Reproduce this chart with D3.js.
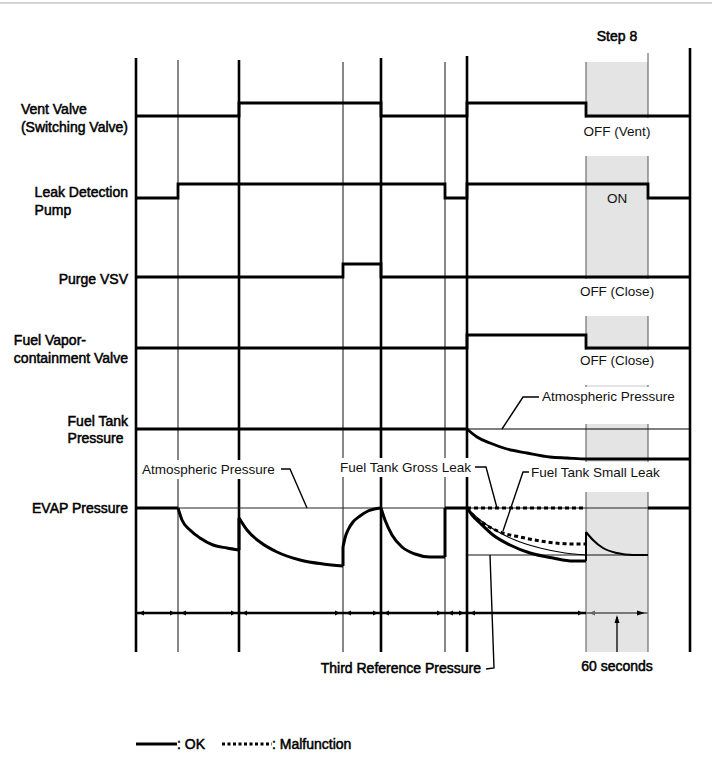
<!DOCTYPE html>
<html>
<head>
<meta charset="utf-8">
<script src="https://cdn.jsdelivr.net/npm/d3@7"></script>
<style>
  body { margin: 0; background: #fff; }
  svg text { font-family: "Liberation Sans", Arial, Helvetica, sans-serif; }
</style>
</head>
<body>
<div id="chart"></div>
<script>
// phase boundaries, seconds from start of the check (about 1 px per second in the picture)
var phaseTimes = [0, 42, 103, 207, 245, 309, 331, 450, 512, 554];
var phaseBold = [true, false, true, false, true, false, true, false, false, true];
var step8 = [450, 512];

// on/off signals as [time, state], 0 = low, 1 = high
var ventValve = [[0, 0], [103, 1], [245, 0], [331, 1], [450, 0], [554, 0]];
var leakPump = [[0, 0], [42, 1], [309, 0], [331, 1], [512, 0], [554, 0]];
var purgeVSV = [[0, 0], [207, 1], [245, 0], [554, 0]];
var vaporValve = [[0, 0], [331, 1], [450, 0], [554, 0]];

// EVAP pressure relative to atmospheric (negative = vacuum), OK case, one array per smooth piece
var evapOk = [
  [[0, 0], [42, 0]],
  [[42, 0], [46, -12], [54, -22], [64, -30], [77, -37], [91, -40], [103, -42]],
  [[103, -10], [111, -22], [124, -34], [141, -44], [164, -52], [187, -56], [207, -58]],
  [[207, -39], [209, -30], [212, -22], [217, -14], [224, -8], [232, -3], [245, 0]],
  [[245, 0], [249, -12], [256, -27], [266, -39], [279, -46], [294, -49], [309, -49]],
  [[309, 0], [331, 0]],
  [[331, 0], [336, -7], [344, -15], [357, -27], [374, -37], [394, -45], [417, -50], [437, -53], [450, -53]]
];
var evapStep8 = [[450, -24], [457, -32], [467, -40], [481, -45], [497, -47], [512, -47]];
var evapAfter = [[512, 0], [554, 0]];
var evapThin = [[331, 0], [344, -12], [359, -22], [379, -32], [404, -40], [429, -45], [450, -47]];
var evapSmallLeak = [[331, 0], [337, -7], [347, -15], [364, -24], [384, -29], [411, -34], [437, -36], [450, -36]];
var evapGrossLeak = [[331, 0], [450, 0]];
var atmosphericEvap = [[[42, 0], [309, 0]], [[331, 0], [512, 0]]];
var thirdReference = [[331, -47], [512, -47]];

// fuel tank pressure relative to atmospheric
var tankPressure = [[0, 0], [331, 0]];
var tankDrop = [[331, 0], [341, -8], [354, -14], [371, -20], [391, -24], [414, -28], [431, -29], [451, -30], [554, -30]];
var atmosphericTank = [[331, 0], [554, 0]];

// texts
var rowLabels = [
  ["Vent Valve", "(Switching Valve)"],
  ["Leak Detection", "Pump"],
  ["Purge VSV"],
  ["Fuel Vapor-", "containment Valve"],
  ["Fuel Tank", "Pressure"],
  ["EVAP Pressure"]
];
var stateLabels = ["OFF (Vent)", "ON", "OFF (Close)", "OFF (Close)"];
var legendLabels = [": OK", ": Malfunction"];

var W = 712, H = 782;
var svg = d3.select("#chart").append("svg")
  .attr("width", W)
  .attr("height", H);

var x = d3.scaleLinear().domain([0, 554]).range([136, 690]);

// layout of the rows (low / high line of the switching signals)
var rowY = [
  { low: 116, high: 103, label: [114, 132] },
  { low: 198, high: 184, label: [197, 215] },
  { low: 277, high: 264, label: [284] },
  { low: 348, high: 335, label: [345, 363] },
  { low: 429, high: 429, label: [426, 443] },
  { low: 508, high: 508, label: [513] }
];
var yEvap = d3.scaleLinear().domain([-60, 0]).range([568, 508]);
var yTank = d3.scaleLinear().domain([-40, 0]).range([469, 429]);

var lineTop = [58, 60, 60, 62, 58, 62, 56, 62, 53, 48];
var lineBottom = 652;
var boxTop = 62;
var arrowY = 613;

// faint rule at the very top
svg.append("line")
  .attr("x1", 0).attr("x2", W)
  .attr("y1", 3).attr("y2", 3)
  .attr("stroke", "#d4d4d4")
  .attr("stroke-width", 2);

// Step 8 shading
svg.append("rect")
  .attr("x", x(step8[0]))
  .attr("y", boxTop)
  .attr("width", x(step8[1]) - x(step8[0]))
  .attr("height", lineBottom - boxTop)
  .attr("fill", "#e4e4e4");

// phase boundary lines
svg.selectAll(".phase")
  .data(phaseTimes)
  .enter()
  .append("line")
  .attr("class", "phase")
  .attr("x1", function (d) { return x(d); })
  .attr("x2", function (d) { return x(d); })
  .attr("y1", function (d, i) { return lineTop[i]; })
  .attr("y2", lineBottom)
  .attr("stroke", function (d, i) { return phaseBold[i] ? "#000" : (i >= 7 && i <= 8 ? "#555" : "#111"); })
  .attr("stroke-width", function (d, i) { return phaseBold[i] ? 2.6 : 1; });

// white gaps in the shading where the state labels sit
var gaps = [[118, 156], [279, 316], [350, 385], [388, 424], [462, 492]];
svg.selectAll(".gap")
  .data(gaps)
  .enter()
  .append("rect")
  .attr("x", x(step8[0]) - 1.5)
  .attr("width", x(step8[1]) - x(step8[0]) + 3)
  .attr("y", function (d) { return d[0]; })
  .attr("height", function (d) { return d[1] - d[0]; })
  .attr("fill", "#fff");

// switching signals
var signals = [ventValve, leakPump, purgeVSV, vaporValve];
signals.forEach(function (sig, i) {
  var y = d3.scaleLinear().domain([0, 1]).range([rowY[i].low, rowY[i].high]);
  var line = d3.line()
    .x(function (d) { return x(d[0]); })
    .y(function (d) { return y(d[1]); })
    .curve(d3.curveStepAfter);
  svg.append("path")
    .attr("d", line(sig))
    .attr("fill", "none")
    .attr("stroke", "#000")
    .attr("stroke-width", 2.8);
});

function lineFor(yScale, curve) {
  return d3.line()
    .x(function (d) { return x(d[0]); })
    .y(function (d) { return yScale(d[1]); })
    .curve(curve || d3.curveMonotoneX);
}
var evapLine = lineFor(yEvap);
var tankLine = lineFor(yTank);
var straight = lineFor(yEvap, d3.curveLinear);

// fuel tank pressure
svg.append("path")
  .attr("d", tankLine(atmosphericTank))
  .attr("fill", "none").attr("stroke", "#000").attr("stroke-width", 1);
svg.append("path")
  .attr("d", tankLine(tankPressure))
  .attr("fill", "none").attr("stroke", "#000").attr("stroke-width", 2.8);
svg.append("path")
  .attr("d", tankLine(tankDrop))
  .attr("fill", "none").attr("stroke", "#000").attr("stroke-width", 2.8);

// EVAP reference lines
atmosphericEvap.forEach(function (seg) {
  svg.append("path")
    .attr("d", straight(seg))
    .attr("fill", "none").attr("stroke", "#222").attr("stroke-width", 1);
});
svg.append("path")
  .attr("d", straight(thirdReference))
  .attr("fill", "none").attr("stroke", "#111").attr("stroke-width", 1);

// malfunction cases (dotted)
[evapGrossLeak, evapSmallLeak].forEach(function (seg) {
  svg.append("path")
    .attr("d", evapLine(seg))
    .attr("fill", "none")
    .attr("stroke", "#000")
    .attr("stroke-width", 3)
    .attr("stroke-dasharray", "4,3");
});

svg.append("path")
  .attr("d", evapLine(evapThin))
  .attr("fill", "none").attr("stroke", "#000").attr("stroke-width", 1.1);

// OK case, smooth pieces joined by straight jumps
evapOk.forEach(function (seg, i) {
  svg.append("path")
    .attr("d", evapLine(seg))
    .attr("fill", "none").attr("stroke", "#000").attr("stroke-width", 3)
    .attr("stroke-linejoin", "round");
  if (i > 0) {
    var prev = evapOk[i - 1];
    svg.append("path")
      .attr("d", straight([prev[prev.length - 1], seg[0]]))
      .attr("fill", "none").attr("stroke", "#000").attr("stroke-width", 3);
  }
});
var lastOk = evapOk[evapOk.length - 1];
svg.append("path")
  .attr("d", straight([lastOk[lastOk.length - 1], evapStep8[0]]))
  .attr("fill", "none").attr("stroke", "#000").attr("stroke-width", 2);
svg.append("path")
  .attr("d", evapLine(evapStep8))
  .attr("fill", "none").attr("stroke", "#000").attr("stroke-width", 2);
svg.append("path")
  .attr("d", straight(evapAfter))
  .attr("fill", "none").attr("stroke", "#000").attr("stroke-width", 2.8);

// time row with dimension arrows
function arrowHead(px, py, dir, color, len) {
  // dir: +1 points right, -1 points left, 0 points up
  len = len || 6;
  var p;
  if (dir === 0) {
    p = [[px, py], [px - 2.5, py + len], [px + 2.5, py + len]];
  } else {
    p = [[px, py], [px - dir * len, py - 2.5], [px - dir * len, py + 2.5]];
  }
  svg.append("path")
    .attr("d", "M" + p.join("L") + "Z")
    .attr("fill", color);
}

svg.append("line")
  .attr("x1", x(phaseTimes[0])).attr("x2", x(step8[0]))
  .attr("y1", arrowY).attr("y2", arrowY)
  .attr("stroke", "#000").attr("stroke-width", 2.4);
svg.append("line")
  .attr("x1", x(step8[0])).attr("x2", x(step8[1]))
  .attr("y1", arrowY).attr("y2", arrowY)
  .attr("stroke", "#777").attr("stroke-width", 2);

for (var i = 0; i < 8; i++) {
  var a = x(phaseTimes[i]), b = x(phaseTimes[i + 1]);
  var inBox = phaseTimes[i] >= step8[0];
  arrowHead(a + 3, arrowY, -1, inBox ? "#666" : "#000", inBox ? 6 : 5);
  arrowHead(b - 3, arrowY, 1, "#000", inBox ? 8 : 5);
}
var midStep8 = (step8[0] + step8[1]) / 2;
svg.append("line")
  .attr("x1", x(midStep8)).attr("x2", x(midStep8))
  .attr("y1", 652).attr("y2", arrowY + 4)
  .attr("stroke", "#000").attr("stroke-width", 1.3);
arrowHead(x(midStep8), arrowY + 2, 0, "#000", 8);

// row labels, block right aligned at the chart edge, lines left aligned
function heavy(sel) {
  return sel.attr("fill", "#000")
    .attr("stroke", "#000")
    .attr("stroke-width", 0.5)
    .style("font-size", "14px");
}
rowLabels.forEach(function (lines, r) {
  var g = svg.append("g");
  var texts = lines.map(function (t, k) {
    return heavy(g.append("text"))
      .attr("x", 0)
      .attr("y", rowY[r].label[k])
      .text(t);
  });
  var maxW = d3.max(texts, function (t) { return t.node().getComputedTextLength(); });
  texts.forEach(function (t) { t.attr("x", 128 - maxW); });
});

heavy(svg.append("text"))
  .attr("x", x(midStep8)).attr("y", 41)
  .attr("text-anchor", "middle")
  .text("Step 8");
heavy(svg.append("text"))
  .attr("x", x(midStep8)).attr("y", 671)
  .attr("text-anchor", "middle")
  .text("60 seconds");
heavy(svg.append("text"))
  .attr("x", 481).attr("y", 673)
  .attr("text-anchor", "end")
  .text("Third Reference Pressure");

// state labels in the Step 8 column
var stateY = [136, 203, 296, 365];
stateLabels.forEach(function (t, k) {
  svg.append("text")
    .attr("x", x(midStep8)).attr("y", stateY[k])
    .attr("text-anchor", "middle")
    .attr("fill", "#111")
    .style("font-size", "13.5px")
    .text(t);
});

// annotations with leader lines; a white backing knocks out the boundary lines behind the text
var notes = [
  { text: "Atmospheric Pressure", tx: 542, ty: 401, anchor: "start",
    pts: [[539, 397], [523, 397], [x(366), yTank(0)]] },
  { text: "Atmospheric Pressure", tx: 142, ty: 474, anchor: "start",
    pts: [[281, 469], [290, 469], [x(171), yEvap(0)]] },
  { text: "Fuel Tank Gross Leak", tx: 471, ty: 472, anchor: "end",
    pts: [[475, 467], [486, 467], [x(361), yEvap(0)]] },
  { text: "Fuel Tank Small Leak", tx: 531, ty: 477, anchor: "start",
    pts: [[529, 472], [523, 472], [x(367), yEvap(-23)]] }
];
notes.forEach(function (n) {
  var back = svg.append("rect").attr("fill", "#fff");
  var label = svg.append("text")
    .attr("x", n.tx).attr("y", n.ty)
    .attr("text-anchor", n.anchor)
    .attr("fill", "#111")
    .style("font-size", "13.5px")
    .text(n.text);
  var bb = label.node().getBBox();
  back.attr("x", bb.x - 2).attr("y", bb.y - 2)
    .attr("width", bb.width + 4).attr("height", bb.height + 4);
  svg.append("path")
    .attr("d", "M" + n.pts.join("L"))
    .attr("fill", "none").attr("stroke", "#000").attr("stroke-width", 1.4);
});
// leader for the third reference pressure
svg.append("path")
  .attr("d", "M" + [[x(354), yEvap(-47)], [494, 668], [486, 669]].join("L"))
  .attr("fill", "none").attr("stroke", "#000").attr("stroke-width", 1.4);

// legend
var legendY = 744;
svg.append("line")
  .attr("x1", 136).attr("x2", 177)
  .attr("y1", legendY).attr("y2", legendY)
  .attr("stroke", "#000").attr("stroke-width", 2.8);
heavy(svg.append("text"))
  .attr("x", 177).attr("y", legendY + 5)
  .text(legendLabels[0]);
svg.append("line")
  .attr("x1", 222).attr("x2", 272)
  .attr("y1", legendY).attr("y2", legendY)
  .attr("stroke", "#000").attr("stroke-width", 2.8)
  .attr("stroke-dasharray", "3,2.5");
heavy(svg.append("text"))
  .attr("x", 272).attr("y", legendY + 5)
  .text(legendLabels[1]);
</script>
</body>
</html>
